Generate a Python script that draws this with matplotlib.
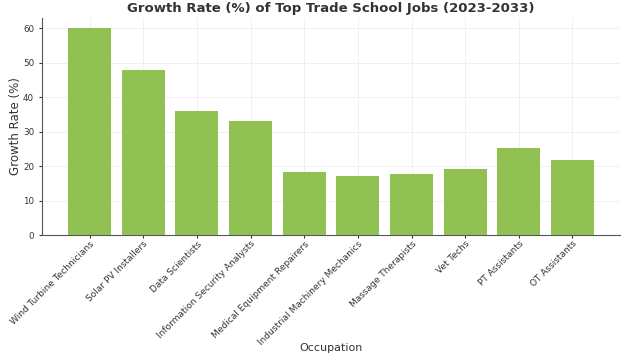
import matplotlib.pyplot as plt

# Data
occupations = ["Wind Turbine Technicians", "Solar PV Installers", "Data Scientists",
               "Information Security Analysts", "Medical Equipment Repairers",
               "Industrial Machinery Mechanics", "Massage Therapists", "Vet Techs",
               "PT Assistants", "OT Assistants"]
growth = [60, 48, 36, 33, 18.3, 17.1, 17.6, 19.2, 25.3, 21.9]

fig = plt.figure(figsize=(6.24, 3.59), dpi=100)
ax = fig.add_axes([0.067, 0.345, 0.927, 0.605])

ax.bar(occupations, growth, width=0.8, color="#92c153", zorder=3)
ax.set_title("Growth Rate (%) of Top Trade School Jobs (2023-2033)",
             fontsize=9.5, fontweight="bold", color="#333333", pad=4)
ax.set_xlabel("Occupation", fontsize=8, color="#333333")
ax.xaxis.set_label_coords(0.5, -0.495)
ax.set_ylabel("Growth Rate (%)", fontsize=8.5, color="#333333", labelpad=1)
ax.set_yticks([0, 10, 20, 30, 40, 50, 60])
ax.set_ylim(0, 63)
ax.tick_params(axis="y", labelsize=6.3, colors="#333333", length=2)
ax.tick_params(axis="x", labelsize=6.5, colors="#333333", length=2, pad=1)
plt.setp(ax.get_xticklabels(), rotation=45, ha="right", rotation_mode="anchor")

ax.grid(True, color="#eeeeee", linewidth=0.6, zorder=0)
ax.spines["top"].set_visible(False)
ax.spines["right"].set_visible(False)
ax.spines["left"].set_color("#555555")
ax.spines["bottom"].set_color("#555555")

plt.savefig("out.png", dpi=100)
